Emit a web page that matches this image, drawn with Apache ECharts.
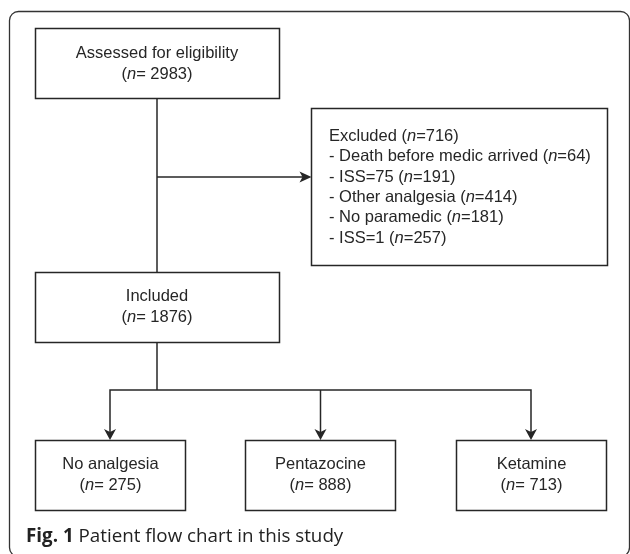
<!DOCTYPE html>
<html><head><meta charset="utf-8">
<script src="https://cdn.jsdelivr.net/npm/echarts@6/dist/echarts.min.js"></script>
<style>html,body{margin:0;padding:0;background:#fff}#c{width:630px;height:554px}</style>
</head><body><div id="c"></div>
<script>
// ---- data ----
const stageLabels = ['Assessed for eligibility', 'Included'];
const stageCounts = [2983, 1876];
const excludedLabel = 'Excluded';
const excludedTotal = 716;
const excludedReasons = ['Death before medic arrived', 'ISS=75', 'Other analgesia', 'No paramedic', 'ISS=1'];
const excludedCounts = [64, 191, 414, 181, 257];
const groupLabels = ['No analgesia', 'Pentazocine', 'Ketamine'];
const groupCounts = [275, 888, 713];
const captionBold = 'Fig. 1';
const captionText = ' Patient flow chart in this study';

// ---- layout ----
const FONT = '"Liberation Sans", Arial, Helvetica, sans-serif';
const INK = '#262626';
const LW = 1.5;
const rich = {
  t: { fontFamily: FONT, fontSize: 16.5, fill: INK, lineHeight: 21 },
  i: { fontFamily: FONT, fontSize: 16.5, fill: INK, fontStyle: 'italic', lineHeight: 21 }
};
const g = [];
function box(x, y, w, h) {
  g.push({ type: 'rect', shape: { x: x, y: y, width: w, height: h }, style: { fill: '#fff', stroke: INK, lineWidth: LW } });
}
function centerText(cx, cy, label, n) {
  g.push({ type: 'text', x: cx, y: cy, style: {
    text: '{t|' + label + '}\n{t|(}{i|n}{t|= ' + n + ')}',
    rich: rich, align: 'center', verticalAlign: 'middle', textAlign: 'center', textVerticalAlign: 'middle'
  }});
}
function line(pts) {
  g.push({ type: 'polyline', shape: { points: pts }, style: { stroke: INK, lineWidth: LW, fill: null } });
}
function arrowDown(x, y) {
  g.push({ type: 'polygon', shape: { points: [[x - 6, y - 11], [x, y - 8], [x + 6, y - 11], [x, y]] }, style: { fill: INK } });
}
function arrowRight(x, y) {
  g.push({ type: 'polygon', shape: { points: [[x - 12, y - 5.5], [x - 9, y], [x - 12, y + 5.5], [x, y]] }, style: { fill: INK } });
}

// outer frame
g.push({ type: 'rect', shape: { x: 9.5, y: 11.5, width: 620, height: 545, r: 9 }, style: { fill: 'none', stroke: '#333', lineWidth: 1.3 } });

// main flow lines
line([[157, 98], [157, 272]]);
line([[157, 177], [305, 177]]);
arrowRight(311.5, 177);
line([[157, 342], [157, 390]]);
line([[110, 432], [110, 390], [531, 390], [531, 432]]);
line([[320.5, 390], [320.5, 432]]);
arrowDown(110, 440); arrowDown(320.5, 440); arrowDown(531, 440);

// top boxes
box(35.5, 28.5, 244, 70);
centerText(157, 63.5, stageLabels[0], stageCounts[0]);
box(35.5, 272.5, 244, 70);
centerText(157, 307, stageLabels[1], stageCounts[1]);

// excluded box
box(311.5, 108.5, 296, 157);
const exLines = ['{t|' + excludedLabel + ' (}{i|n}{t|=' + excludedTotal + ')}'];
excludedReasons.forEach((r, k) => exLines.push('{t|- ' + r + ' (}{i|n}{t|=' + excludedCounts[k] + ')}'));
g.push({ type: 'text', x: 329, y: 126, style: {
  text: exLines.join('\n'),
  rich: { t: Object.assign({}, rich.t, { lineHeight: 20.4 }), i: Object.assign({}, rich.i, { lineHeight: 20.4 }) },
  align: 'left', verticalAlign: 'top', textAlign: 'left', textVerticalAlign: 'top'
}});

// group boxes
const gx = [35.5, 245.5, 456.5];
groupLabels.forEach((lab, k) => {
  box(gx[k], 440.5, 150, 70);
  centerText(gx[k] + 75, 475, lab, groupCounts[k]);
});

// caption
g.push({ type: 'text', x: 26, y: 537, style: {
  text: '{b|' + captionBold + '}{r|' + captionText + '}',
  rich: {
    b: { fontFamily: '"Open Sans", sans-serif', fontSize: 18.8, fontWeight: 'bold', fill: '#222' },
    r: { fontFamily: '"Open Sans", sans-serif', fontSize: 18.8, fill: '#222' }
  },
  align: 'left', verticalAlign: 'middle', textAlign: 'left', textVerticalAlign: 'middle'
}});

const chart = echarts.init(document.getElementById('c'), null, { renderer: 'canvas' });
chart.setOption({ animation: false, graphic: { elements: g } });
</script></body></html>
